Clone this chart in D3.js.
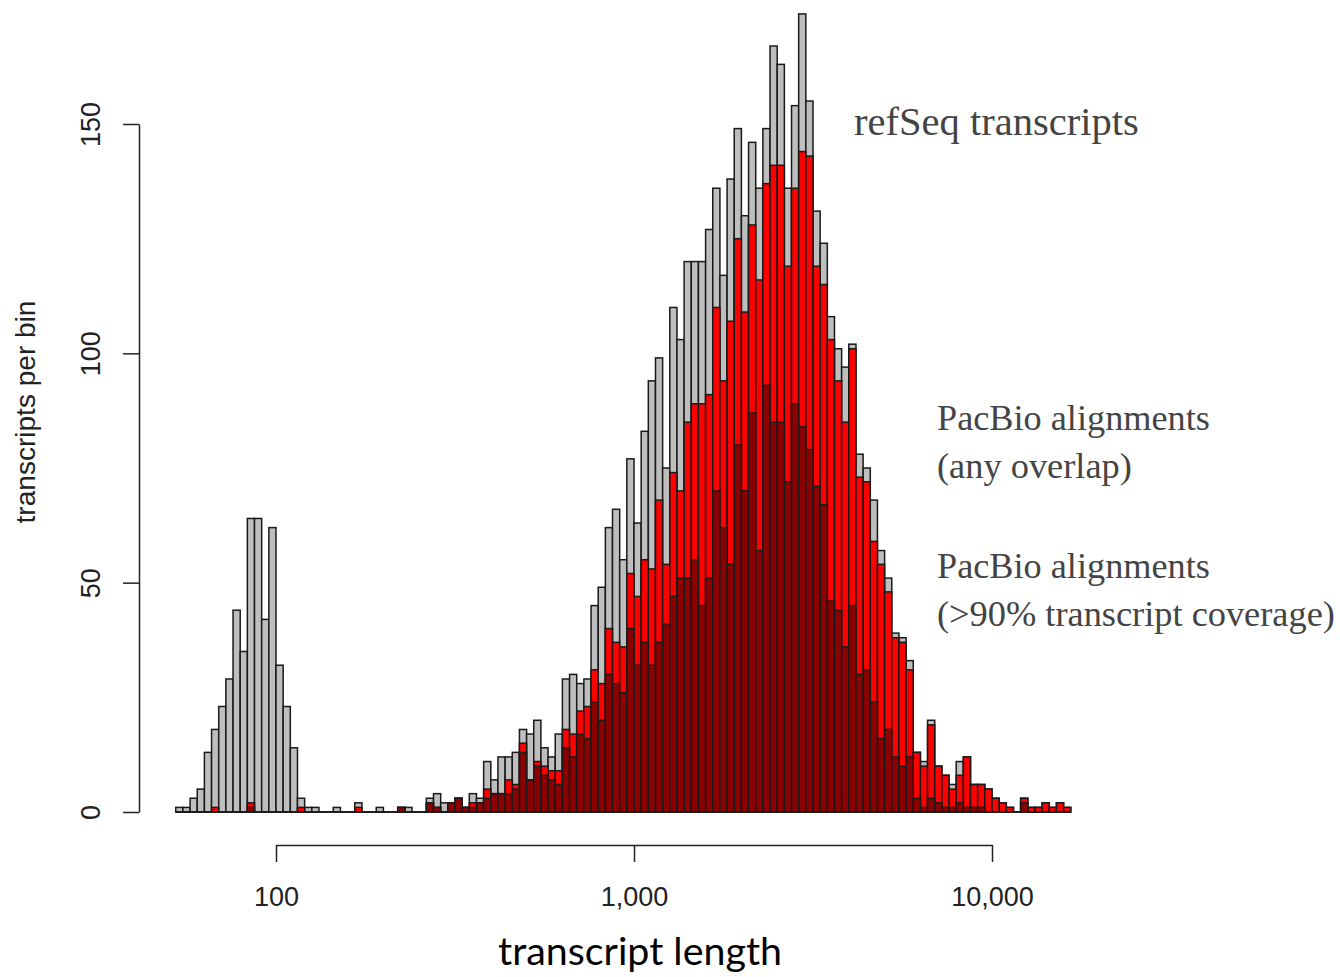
<!DOCTYPE html>
<html>
<head>
<meta charset="utf-8">
<script src="https://cdnjs.cloudflare.com/ajax/libs/d3/7.8.5/d3.min.js"></script>
<style>
    body { margin: 0; background: #ffffff; }
</style>
</head>
<body>
<svg id="chart" width="1340" height="977"></svg>
<script>
"use strict";

// histogram breaks (log10 of transcript length)
const breakStart = 1.72
const breakStep = 0.02

// counts per bin
const refSeqCounts = [
    1, 1, 3, 5, 13, 18, 23, 29, 44, 35,
    64, 64, 42, 62, 32, 23, 14, 3, 1, 1,
    0, 0, 1, 0, 0, 2, 0, 0, 1, 0,
    0, 1, 1, 0, 0, 3, 4, 2, 2, 3,
    1, 4, 3, 11, 7, 12, 12, 13, 18, 17,
    20, 14, 12, 17, 29, 30, 28, 29, 45, 49,
    62, 66, 55, 77, 63, 83, 94, 99, 75, 110,
    103, 120, 120, 120, 127, 136, 117, 138, 149, 130,
    146, 136, 149, 167, 163, 136, 154, 174, 155, 131,
    124, 108, 101, 97, 102, 78, 75, 68, 57, 51,
    39, 38, 33, 13, 11, 20, 10, 8, 6, 11,
    12, 6, 6, 5, 3, 2, 1, 0, 3, 1,
    1, 2, 1, 2, 1
]
const anyOverlapCounts = [
    0, 0, 0, 0, 0, 1, 0, 0, 0, 0,
    2, 0, 0, 0, 0, 0, 0, 1, 0, 0,
    0, 0, 0, 0, 0, 1, 0, 0, 0, 0,
    0, 1, 0, 0, 0, 2, 1, 0, 2, 3,
    1, 2, 2, 5, 4, 4, 7, 6, 15, 7,
    11, 10, 9, 9, 18, 17, 22, 23, 31, 28,
    40, 37, 36, 52, 47, 55, 53, 68, 54, 74,
    70, 85, 89, 89, 91, 110, 94, 107, 125, 109,
    128, 116, 137, 141, 141, 119, 136, 144, 143, 119,
    115, 103, 94, 85, 101, 73, 72, 59, 54, 48,
    38, 37, 31, 13, 10, 19, 10, 8, 5, 8,
    12, 6, 6, 5, 3, 2, 1, 0, 3, 1,
    1, 2, 1, 2, 1
]
const fullCoverageCounts = [
    0, 0, 0, 0, 0, 0, 0, 0, 0, 0,
    1, 0, 0, 0, 0, 0, 0, 0, 0, 0,
    0, 0, 0, 0, 0, 0, 0, 0, 0, 0,
    0, 1, 0, 0, 0, 2, 1, 0, 2, 3,
    1, 1, 2, 3, 4, 4, 4, 5, 13, 7,
    10, 8, 7, 6, 14, 12, 17, 16, 24, 20,
    30, 28, 26, 40, 32, 37, 32, 37, 41, 47,
    51, 51, 55, 45, 51, 70, 62, 54, 80, 70,
    87, 57, 93, 85, 85, 72, 89, 84, 79, 71,
    67, 46, 44, 36, 45, 30, 31, 24, 16, 18,
    12, 10, 12, 3, 1, 3, 2, 1, 1, 2,
    1, 1, 1, 0, 0, 0, 0, 0, 2, 0,
    0, 0, 0, 0, 0
]

const yTicks = [0, 50, 100, 150]
const xTicks = [100, 1000, 10000]
const seriesColors = ["#bebebe", "#ff0000", "#8b0000"]
const legendLines = ["refSeq transcripts", "PacBio alignments", "(any overlap)",
    "PacBio alignments", "(>90% transcript coverage)"]

const svg = d3.select("#chart")

// log x axis, linear y axis
let x = d3.scaleLog().domain([100, 10000]).range([276, 992])
let y = d3.scaleLinear().domain([0, 150]).range([812, 124])

// turn a counts array into bin objects
function makeBins(counts) {
    return counts.map(function (c, i) {
        return {
            lo: Math.pow(10, breakStart + i * breakStep),
            hi: Math.pow(10, breakStart + (i + 1) * breakStep),
            count: c
        }
    })
}

function drawSeries(counts, color) {
    let bins = makeBins(counts)
    let g = svg.append("g")
    g.selectAll("rect")
        .data(bins.filter(function (d) { return d.count > 0 }))
        .enter().append("rect")
        .attr("x", function (d) { return x(d.lo) })
        .attr("width", function (d) { return x(d.hi) - x(d.lo) })
        .attr("y", function (d) { return y(d.count) })
        .attr("height", function (d) { return y(0) - y(d.count) })
        .attr("fill", color)
        .attr("stroke", "#1a1a1a")
        .attr("stroke-width", 1.5)
    // empty bins still leave a flat outline on the baseline
    g.selectAll("line")
        .data(bins.filter(function (d) { return d.count === 0 }))
        .enter().append("line")
        .attr("x1", function (d) { return x(d.lo) })
        .attr("x2", function (d) { return x(d.hi) })
        .attr("y1", y(0))
        .attr("y2", y(0))
        .attr("stroke", "#1a1a1a")
        .attr("stroke-width", 1.5)
}

function addAxes() {
    // y axis with rotated labels
    let yAxis = svg.append("g")
        .attr("transform", "translate(139,0)")
        .call(d3.axisLeft(y).tickValues(yTicks).tickSize(16).tickSizeOuter(0))
    yAxis.select(".domain").attr("stroke", "#222").attr("stroke-width", 1.5)
    yAxis.selectAll(".tick line").attr("stroke", "#222").attr("stroke-width", 1.5)
    yAxis.selectAll(".tick text")
        .attr("transform", "rotate(-90)")
        .attr("x", 0)
        .attr("y", -48)
        .attr("dy", "0.35em")
        .attr("text-anchor", "middle")
        .attr("fill", "#222")
        .style("font-family", "'Liberation Sans', Arial, sans-serif")
        .style("font-size", "27px")

    // x axis, detached below the bars
    let xAxis = svg.append("g")
        .attr("transform", "translate(0,845)")
        .call(d3.axisBottom(x).tickValues(xTicks).tickFormat(d3.format(",")).tickSize(17).tickSizeOuter(0))
    xAxis.select(".domain").attr("stroke", "#222").attr("stroke-width", 1.5)
    xAxis.selectAll(".tick line").attr("stroke", "#222").attr("stroke-width", 1.5)
    xAxis.selectAll(".tick text")
        .attr("y", 52)
        .attr("dy", "0.35em")
        .attr("fill", "#222")
        .style("font-family", "'Liberation Sans', Arial, sans-serif")
        .style("font-size", "27px")
}

// shrink or grow a text until it has the given width
function fitWidth(sel, width) {
    let size = parseFloat(sel.style("font-size"))
    let w = sel.node().getComputedTextLength()
    sel.style("font-size", (size * width / w) + "px")
}

function addLabels() {
    let yLab = svg.append("text")
        .attr("transform", "translate(25,412) rotate(-90)")
        .attr("text-anchor", "middle")
        .attr("dy", "0.35em")
        .attr("fill", "#222")
        .style("font-family", "'Liberation Sans', Arial, sans-serif")
        .style("font-size", "26px")
        .text("transcripts per bin")
    fitWidth(yLab, 223)

    let xLab = svg.append("text")
        .attr("x", 640)
        .attr("y", 965)
        .attr("text-anchor", "middle")
        .attr("fill", "#000")
        .style("font-family", "Lato, 'Open Sans', sans-serif")
        .style("font-size", "36px")
        .text("transcript length")
    fitWidth(xLab, 284)

    // legend text on the right, each line fitted to its width in the picture
    let legendPos = [[854, 135], [937, 430], [937, 478], [937, 578], [937, 626]]
    let legendWidth = [285, 273, 195, 273, 398]
    let legend = svg.append("g")
    legendLines.forEach(function (line, i) {
        let t = legend.append("text")
            .attr("x", legendPos[i][0])
            .attr("y", legendPos[i][1])
            .attr("fill", "#444")
            .style("font-family", "'Liberation Serif', 'DejaVu Serif', serif")
            .style("font-size", "34px")
            .text(line)
        fitWidth(t, legendWidth[i])
    })
}

drawSeries(refSeqCounts, seriesColors[0])
drawSeries(anyOverlapCounts, seriesColors[1])
drawSeries(fullCoverageCounts, seriesColors[2])
addAxes()
addLabels()
</script>
</body>
</html>
